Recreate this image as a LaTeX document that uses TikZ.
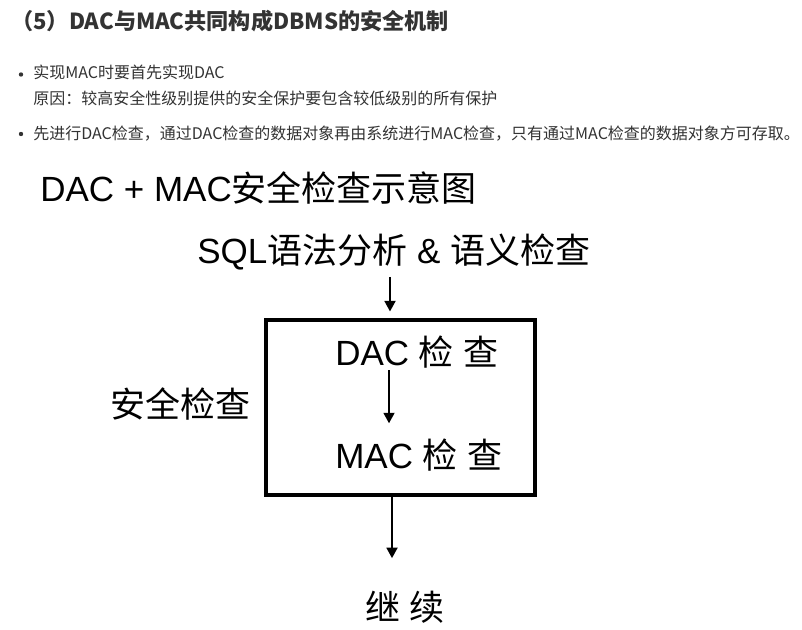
\documentclass[tikz,border=0pt]{standalone}
\usepackage{fontspec}
\setmainfont{Liberation Sans}
\newfontfamily\cjk{Noto Sans CJK SC}
\usetikzlibrary{arrows.meta,fit}
\definecolor{txtgray}{HTML}{333333}
\tikzset{
  px/.style={x=0.75pt,y=-0.75pt},
  headtxt/.style={anchor=base west,inner sep=0pt,text=txtgray,font=\cjk\bfseries\fontsize{16.6pt}{18pt}\selectfont},
  bullettxt/.style={anchor=base west,inner sep=0pt,text=txtgray,font=\cjk\fontsize{12pt}{14pt}\selectfont},
  diag/.style={anchor=base west,inner sep=0pt,text=black,font=\fontsize{26.25pt}{30pt}\selectfont},
  dot/.style={circle,fill=txtgray,inner sep=0pt,minimum size=3.3pt},
  arr/.style={line width=2.1pt,-{Triangle[length=8pt,width=8pt]}},
  frame/.style={draw,line width=2.6pt,inner sep=0pt}
}
\begin{document}
\begin{tikzpicture}[px]
\useasboundingbox[fill=white] (0,0) rectangle (802,630);
% heading
\node[headtxt] (head) at (11,30) {（5）DAC与MAC共同构成DBMS的安全机制};
% bullets
\node[dot] (d1) at (21,74.5) {};
\node[bullettxt] (b1) at (33,79) {实现MAC时要首先实现DAC};
\node[bullettxt] (b2) at (33,105) {原因：较高安全性级别提供的安全保护要包含较低级别的所有保护};
\node[dot] (d2) at (21,134) {};
\node[bullettxt] (b3) at (33,140) {先进行DAC检查，通过DAC检查的数据对象再由系统进行MAC检查，只有通过MAC检查的数据对象方可存取。};
% diagram
\node[diag] (title) at (40,202) {DAC + MAC{\cjk 安全检查示意图}};
\node[diag] (sql) at (197,264) {SQL{\cjk 语法分析} \& {\cjk 语义检查}};
\node[frame,fit={(266,320)(535,495)}] (box) {};
\node[diag] (dac) at (335,366) {DAC {\cjk 检} {\cjk 查}};
\node[diag] (mac) at (335,468) {MAC {\cjk 检} {\cjk 查}};
\node[diag] (sec) at (110,417) {\cjk 安全检查};
\node[diag] (cont) at (365,620) {{\cjk 继} {\cjk 续}};
% connectors
\coordinate (x1) at (390,0);
\coordinate (x2) at (389,0);
\coordinate (x3) at (392,0);
\draw[arr,shorten <=4.5pt,shorten >=5pt] (x1 |- sql.south) -- (x1 |- box.north);
\draw[arr,shorten <=1pt,shorten >=11pt] (x2 |- dac.south) -- (x2 |- mac.north);
\draw[arr,shorten >=24pt] (x3 |- box.south) -- (x3 |- cont.north);
\end{tikzpicture}
\end{document}
